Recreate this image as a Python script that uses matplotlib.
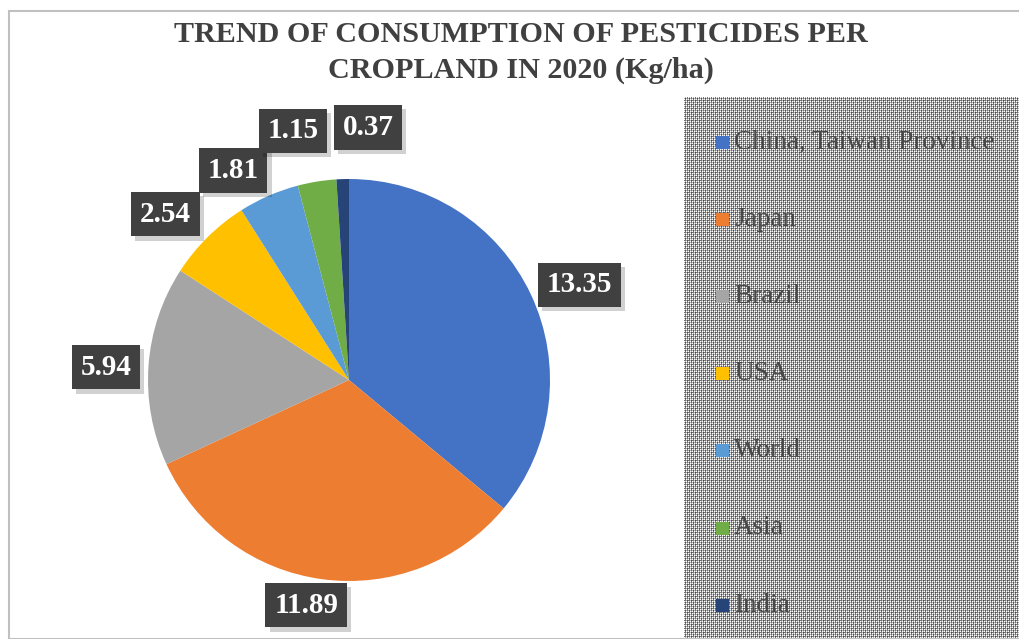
import matplotlib.pyplot as plt
import matplotlib.patheffects as pe
import numpy as np

countries = ["China, Taiwan Province", "Japan", "Brazil", "USA", "World", "Asia", "India"]
values = [13.35, 11.89, 5.94, 2.54, 1.81, 1.15, 0.37]
colors = ["#4472C4", "#ED7D31", "#A5A5A5", "#FFC000", "#5B9BD5", "#70AD47", "#264478"]

# label placement tweaks (distance from centre, angle nudge in degrees)
label_dist = [1.24, 1.14, 1.21, 1.23, 1.19, 1.27, 1.26]
label_nudge = [-2.7, -3.3, 1.1, 3.2, 5.4, 3.5, -6.1]

W, H = 1019, 639
fig = plt.figure(figsize=(W / 100, H / 100), dpi=100)

# chart border
fig.patches.append(plt.Rectangle((9 / W, 0), 1.5, (H - 11) / H, transform=fig.transFigure,
                                 fill=False, edgecolor="#c0c0c0", lw=1.5))

# patterned legend background
tile = np.array([[1.0, .70, 1.0, .45],
                 [.70, .30, .70, .45],
                 [1.0, .45, 1.0, .70],
                 [.45, .45, .70, .30]])
lw_px, lh_px = W - 684, H - 97
pat = np.tile(tile, (lh_px // 4 + 1, lw_px // 4 + 1))[:lh_px, :lw_px]
fig.figimage(pat, xo=684, yo=0, cmap="gray", vmin=0, vmax=1, origin="upper", zorder=0)

fig.text(521 / W, 1 - 34 / H, "TREND OF CONSUMPTION OF PESTICIDES PER",
         ha="center", va="center", fontsize=21.7, fontweight="bold",
         family="Liberation Serif", color="#404040")
fig.text(521 / W, 1 - 70 / H, "CROPLAND IN 2020 (Kg/ha)",
         ha="center", va="center", fontsize=21.7, fontweight="bold",
         family="Liberation Serif", color="#404040")

cx, cy, r = 349, H - 380, 201
ax = fig.add_axes([(cx - r) / W, (cy - r) / H, 2 * r / W, 2 * r / H])
wedges, _ = ax.pie(values, colors=colors, startangle=90, counterclock=False,
                   radius=1, wedgeprops=dict(linewidth=0))
ax.set_xlim(-1, 1)
ax.set_ylim(-1, 1)
ax.axis("off")

for w, v, d, nd in zip(wedges, values, label_dist, label_nudge):
    th = np.deg2rad((w.theta1 + w.theta2) / 2 + nd)
    t = ax.text(d * np.cos(th), d * np.sin(th), f"{v:.2f}", ha="center", va="center",
                fontsize=21, fontweight="bold", family="Liberation Serif", color="white",
                bbox=dict(boxstyle="square,pad=0.3", facecolor="#404040", edgecolor="none"),
                clip_on=False)
    t.get_bbox_patch().set_path_effects(
        [pe.SimplePatchShadow(offset=(3, -3), shadow_rgbFace="k", alpha=0.18), pe.Normal()])

# legend entries
for i, (name, c) in enumerate(zip(countries, colors)):
    y = 1 - (142 + 77.2 * i) / H
    fig.patches.append(plt.Rectangle((716 / W, y - 6.5 / H), 13 / W, 13 / H,
                                     transform=fig.transFigure, facecolor=c, edgecolor="none"))
    fig.text(734 / W, y, name, ha="left", va="center", fontsize=19.5,
             family="Liberation Serif", color="#484848")

fig.savefig("out.png", dpi=100)
